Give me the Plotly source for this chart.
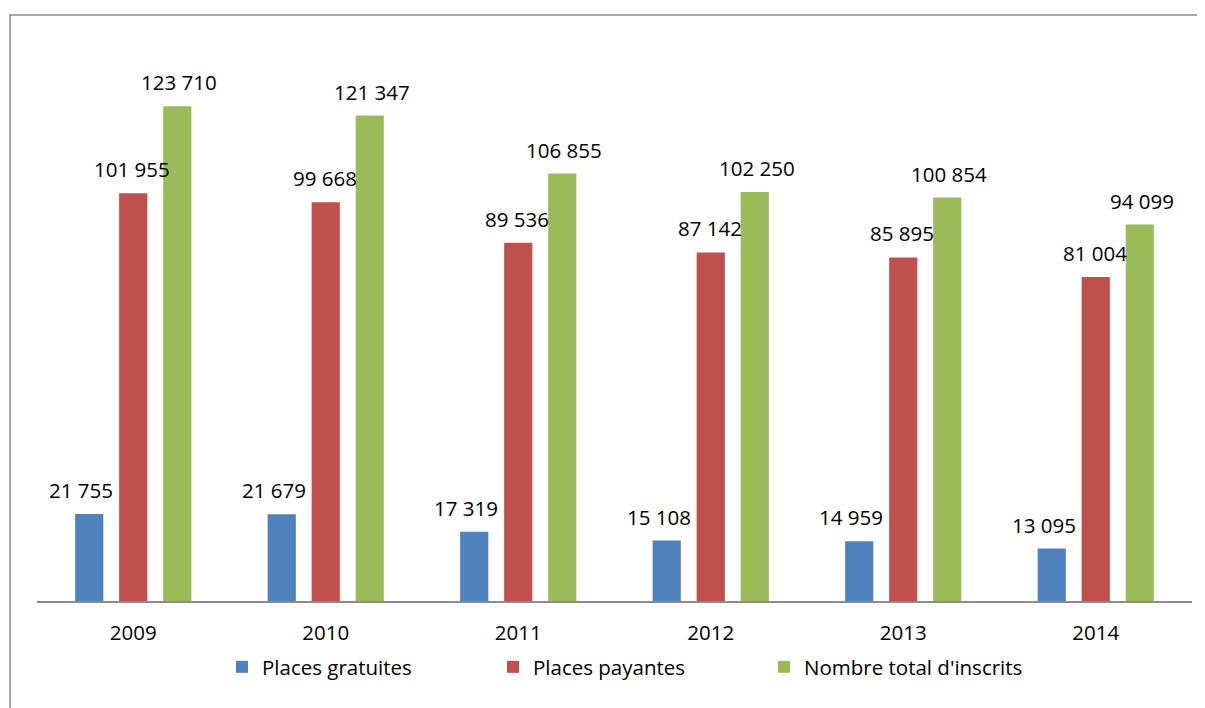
import plotly.graph_objects as go

years = ["2009", "2010", "2011", "2012", "2013", "2014"]
places_gratuites = [21755, 21679, 17319, 15108, 14959, 13095]
places_payantes = [101955, 99668, 89536, 87142, 85895, 81004]
total_inscrits = [123710, 121347, 106855, 102250, 100854, 94099]

series = [
    ("Places gratuites", places_gratuites, "#4F81BD"),
    ("Places payantes", places_payantes, "#C0504D"),
    ("Nombre total d'inscrits", total_inscrits, "#9BBB59"),
]

FONT = "Open Sans"
FS = 20.5
OFF = 8  # page body margin
W, H = 1205, 708
# target screen positions of plot area: x 37..1192, y 33..601
L, T = 37 - OFF, 33 - OFF
R = W - (1192 - OFF)
B = H - (601 - OFF)
pw, ph = W - L - R, H - T - B


def px_x(s):
    return (s - OFF - L) / pw


def px_y(s):
    return (T + ph - (s - OFF)) / ph


fig = go.Figure()
for name, vals, col in series:
    fig.add_trace(go.Bar(
        x=years, y=vals, name=name,
        marker=dict(color=col, line=dict(color=col, width=0)),
        cliponaxis=False,
    ))

# data labels (category index positions on the category axis)
shifts = [-52, -1, 46]
for (name, vals, col), sx in zip(series, shifts):
    for i, v in enumerate(vals):
        fig.add_annotation(
            x=i, y=v, xref="x", yref="y",
            text=f"{v:,}".replace(",", " "),
            showarrow=False, xshift=sx, yshift=8, yanchor="bottom",
            font=dict(family=FONT, size=FS, color="#000000"),
        )

# chart border
fig.add_shape(type="rect", xref="paper", yref="paper",
              x0=px_x(10), x1=px_x(W + 30),
              y0=px_y(H + 30), y1=px_y(15),
              line=dict(color="#8C8C8C", width=1.5), fillcolor="rgba(0,0,0,0)",
              layer="below")

fig.update_layout(
    width=W, height=H,
    margin=dict(l=L, r=R, t=T, b=B, autoexpand=False),
    paper_bgcolor="white", plot_bgcolor="white",
    barmode="group", bargap=0.314, bargroupgap=0.36,
    showlegend=True,
    legend=dict(orientation="h", x=px_x(222), xanchor="left",
                y=px_y(667), yanchor="middle",
                font=dict(family=FONT, size=FS, color="#000000"),
                entrywidth=226, entrywidthmode="pixels",
                itemwidth=30, bgcolor="rgba(0,0,0,0)"),
    font=dict(family=FONT, size=FS, color="#000000"),
    xaxis=dict(type="category", range=[-0.5, len(years) - 0.5],
               showline=True, linecolor="#8C8C8C", linewidth=2,
               ticks="", showgrid=False, tickfont=dict(family=FONT, size=FS),
               ticklabelstandoff=12),
    yaxis=dict(range=[0, 142000], visible=False, showgrid=False),
)

fig.write_html("out.html")
